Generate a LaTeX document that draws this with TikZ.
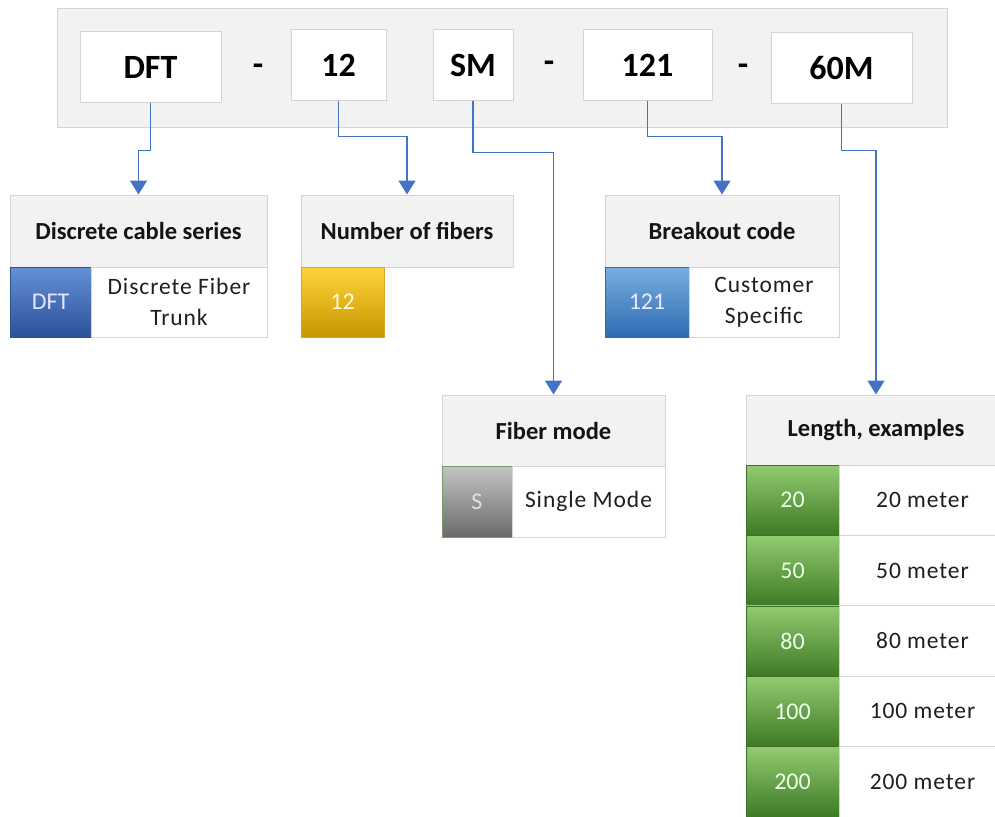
\documentclass[tikz,border=0pt]{standalone}
\usepackage{fontspec}
\setmainfont{Carlito}
\newfontfamily\spacedfont[LetterSpace=4]{Carlito}
\usetikzlibrary{arrows.meta,shadings}
\definecolor{bgray}{HTML}{F2F2F2}
\definecolor{lgray}{HTML}{D4D4D4}
\definecolor{conncol}{HTML}{4472C4}
\definecolor{blueT}{HTML}{6490D6}
\definecolor{blueB}{HTML}{2C5199}
\definecolor{yelT}{HTML}{FFD43B}
\definecolor{yelB}{HTML}{C79500}
\definecolor{lblueT}{HTML}{79AEE0}
\definecolor{lblueB}{HTML}{2E6BB2}
\definecolor{grayT}{HTML}{C4C4C4}
\definecolor{grayB}{HTML}{6A6A6A}
\definecolor{greenT}{HTML}{92CB70}
\definecolor{greenB}{HTML}{3D7A25}
\definecolor{greenD}{HTML}{3F6E2A}
\tikzset{
  outerbox/.style={draw=lgray, fill=bgray, line width=1pt},
  codebox/.style={draw=lgray, fill=white, line width=1pt, inner sep=0pt, font=\bfseries\fontsize{34}{36}\selectfont},
  dashtxt/.style={inner sep=0pt, font=\bfseries\fontsize{34}{36}\selectfont},
  hdr/.style={draw=lgray, fill=bgray, line width=1pt, inner sep=0pt, font=\bfseries\fontsize{24.5}{28}\selectfont, text=black!92},
  desc/.style={draw=lgray, fill=white, line width=1pt, inner sep=0pt, align=center, font=\spacedfont\fontsize{23.5}{31}\selectfont, text=black!88},
  swatch/.style={inner sep=0pt, line width=0.6pt, font=\fontsize{24}{26}\selectfont},
  conn/.style={draw=conncol, line width=1.6pt, -{Triangle[width=17pt,length=14pt]}},
}
\begin{document}
\begin{tikzpicture}[x=1pt,y=-1pt]
\useasboundingbox (0,0) rectangle (995,816);
% outer code box
\node[outerbox, minimum width=890pt, minimum height=118pt, inner sep=0pt] (outer) at (502,68) {};
% code parts
\node[codebox, minimum width=141pt, minimum height=70pt] (dft) at (150.5,67) {DFT};
\node[dashtxt] (d1) at (258,70) {-};
\node[codebox, minimum width=95pt, minimum height=70pt] (n12) at (338.5,65) {12};
\node[codebox, minimum width=80pt, minimum height=70pt] (sm) at (473,65) {SM};
\node[dashtxt] (d2) at (549,67) {-};
\node[codebox, minimum width=129pt, minimum height=70pt] (n121) at (647.5,65) {121};
\node[dashtxt] (d3) at (743,70) {-};
\node[codebox, minimum width=141pt, minimum height=70pt] (m60) at (841.5,68) {60M};
% Discrete cable series
\node[hdr, minimum width=257pt, minimum height=72pt] (h1) at (138.5,231) {Discrete cable series};
\node[swatch, top color=blueT, bottom color=blueB, draw=blueB, text=blue!10!white, minimum width=81pt, minimum height=70pt] (c1) at (50.5,302) {DFT};
\node[desc, minimum width=176pt, minimum height=70pt] (t1) at (179,302) {Discrete Fiber\\Trunk};
% Number of fibers
\node[hdr, minimum width=212pt, minimum height=72pt] (h2) at (407,231) {Number of fibers};
\node[swatch, top color=yelT, bottom color=yelB, draw=yelB!80, text=yellow!15!white, minimum width=83pt, minimum height=70pt] (c2) at (342.5,302) {12};
% Breakout code
\node[hdr, minimum width=234pt, minimum height=72pt] (h3) at (722,231) {Breakout code};
\node[swatch, top color=lblueT, bottom color=lblueB, draw=lblueB, text=blue!8!white, minimum width=84pt, minimum height=70pt] (c3) at (647,302) {121};
\node[desc, minimum width=150pt, minimum height=70pt] (t3) at (764,302) {Customer\\Specific};
% Fiber mode
\node[hdr, minimum width=223pt, minimum height=71pt] (h4) at (553.5,430.5) {Fiber mode};
\node[swatch, top color=grayT, bottom color=grayB, draw=greenD!70, text=gray!25, minimum width=70pt, minimum height=71pt] (c4) at (477,501.5) {S};
\node[desc, minimum width=153pt, minimum height=71pt] (t4) at (588.5,501.5) {Single Mode};
% Length, examples
\node[hdr, minimum width=260pt, minimum height=70pt] (h5) at (876,430) {Length, examples};
\foreach \v [count=\k from 0] in {20,50,80,100,200} {
  \node[swatch, top color=greenT, bottom color=greenB, draw=greenD, text=green!8!white, minimum width=93pt, minimum height=70.4pt] (g\v) at (792.5,{500.2+70.4*\k}) {\v};
  \node[desc, minimum width=167pt, minimum height=70.4pt] (l\v) at (922.5,{500.2+70.4*\k}) {\v\ meter};
}
% connectors
\draw[conn] (dft.south) -- ++(0,48) -| (h1.north);
\draw[conn] (n12.south) -- ++(0,36) -| (h2.north);
\draw[conn] (sm.south) -- ++(0,52) -| (h4.north);
\draw[conn] (n121.south) -- ++(0,36) -| (h3.north);
\draw[conn] (m60.south) -- ++(0,47) -| (h5.north);
\end{tikzpicture}
\end{document}
